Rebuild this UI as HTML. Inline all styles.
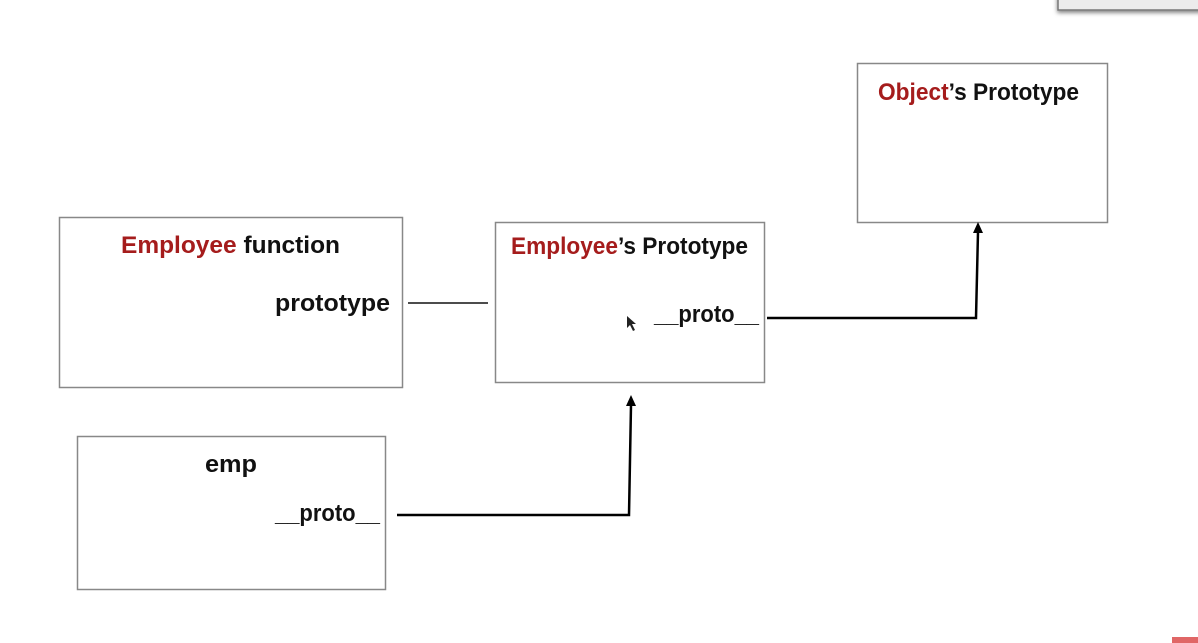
<!DOCTYPE html>
<html><head><meta charset="utf-8"><style>
html,body{margin:0;padding:0;background:#fff;width:1198px;height:643px;overflow:hidden}
svg text{font-family:"Liberation Sans",sans-serif;font-weight:bold;font-size:24px;fill:#111}
.r{fill:#a51c1c}
</style></head><body>
<svg width="1198" height="643" viewBox="0 0 1198 643" xmlns="http://www.w3.org/2000/svg">
<defs>
<filter id="sh" x="-20%" y="-50%" width="140%" height="300%"><feDropShadow dx="0" dy="2" stdDeviation="2" flood-color="#000" flood-opacity="0.5"/></filter>
</defs>
<rect x="1058" y="-5" width="150" height="15" fill="#ececec" stroke="#777" stroke-width="1.5" filter="url(#sh)"/>
<rect x="1172" y="637" width="30" height="10" fill="#e06666"/>
<g fill="none" stroke="#888" stroke-width="1.5">
<rect x="857.5" y="63.5" width="250" height="159"/>
<rect x="59.5" y="217.5" width="343" height="170"/>
<rect x="495.5" y="222.5" width="269" height="160"/>
<rect x="77.5" y="436.5" width="308" height="153"/>
</g>
<line x1="408" y1="303" x2="488" y2="303" stroke="#111" stroke-width="1.5"/>
<path d="M397,515 L629,515 L631,405" fill="none" stroke="#000" stroke-width="2.5"/>
<polygon points="631,395 626,406 636,406" fill="#000"/>
<path d="M767,318 L976,318 L978,232" fill="none" stroke="#000" stroke-width="2.5"/>
<polygon points="978,222 973,233 983,233" fill="#000"/>
<text x="121" y="253" textLength="219" lengthAdjust="spacingAndGlyphs"><tspan class="r">Employee</tspan> function</text>
<text x="275" y="311" textLength="115" lengthAdjust="spacingAndGlyphs">prototype</text>
<text x="511" y="254" textLength="237" lengthAdjust="spacingAndGlyphs"><tspan class="r">Employee</tspan>’s Prototype</text>
<text x="654" y="322" textLength="105" lengthAdjust="spacingAndGlyphs">__proto__</text>
<text x="878" y="100" textLength="201" lengthAdjust="spacingAndGlyphs"><tspan class="r">Object</tspan>’s Prototype</text>
<text x="205" y="472" textLength="52" lengthAdjust="spacingAndGlyphs">emp</text>
<text x="275" y="521" textLength="105" lengthAdjust="spacingAndGlyphs">__proto__</text>
<path d="M627,316 L627,328 L630,325 L633,331 L635,330 L632,324 L636,324 Z" fill="#222"/>
</svg>
</body></html>
